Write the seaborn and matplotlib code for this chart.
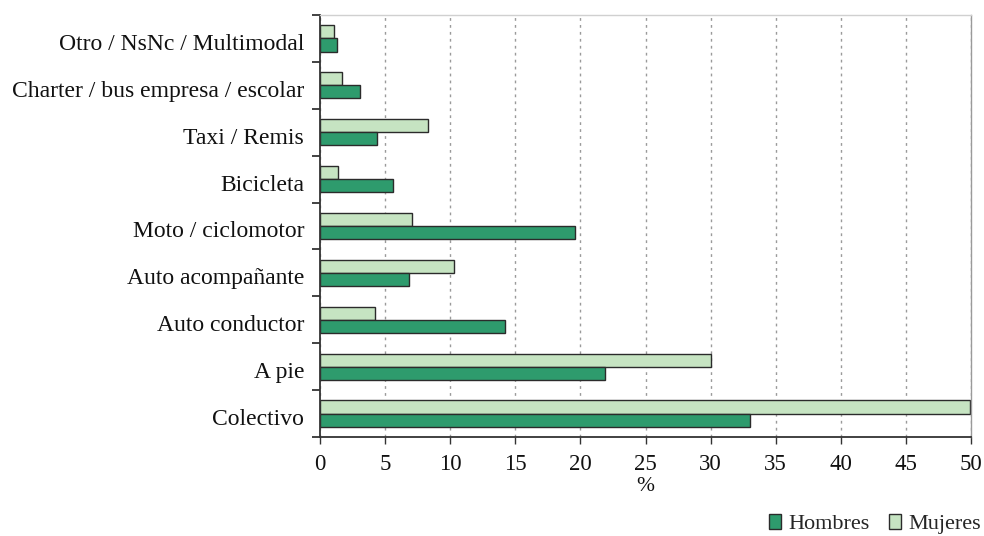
import matplotlib
matplotlib.use("Agg")
import matplotlib.pyplot as plt
import matplotlib.transforms as mtransforms
from matplotlib.patches import Patch
from matplotlib.ticker import FixedLocator
import seaborn as sns
import pandas as pd

# Travel mode shares by sex (%)
modos = [
    "Otro / NsNc / Multimodal",
    "Charter / bus empresa / escolar",
    "Taxi / Remis",
    "Bicicleta",
    "Moto / ciclomotor",
    "Auto acompañante",
    "Auto conductor",
    "A pie",
    "Colectivo",
]
hombres = [1.3, 3.1, 4.4, 5.6, 19.6, 6.8, 14.2, 21.9, 33.0]
mujeres = [1.1, 1.7, 8.3, 1.4, 7.1, 10.3, 4.2, 30.0, 49.9]
series = ["Hombres", "Mujeres"]
x_ticks = [0, 5, 10, 15, 20, 25, 30, 35, 40, 45, 50]

color_h = "#2e9b6d"
color_m = "#c6e4c2"

df = pd.DataFrame({
    "modo": modos * 2,
    "sexo": ["Mujeres"] * len(modos) + ["Hombres"] * len(modos),
    "valor": mujeres + hombres,
})

sns.set_theme(style="white")
plt.rcParams["font.family"] = ["Liberation Serif", "DejaVu Serif"]

fig = plt.figure(figsize=(9.84, 5.36), dpi=100)
ax = fig.add_axes([320 / 984, 1 - 437 / 536, 651 / 984, 422 / 536])

sns.barplot(
    data=df, y="modo", x="valor", hue="sexo", order=modos,
    hue_order=["Mujeres", "Hombres"],
    palette={"Mujeres": color_m, "Hombres": color_h},
    saturation=1, width=0.56, edgecolor="#2b2b2b", linewidth=1.0,
    orient="h", legend=False, ax=ax,
)

ax.set_xlim(0, 50)
ax.set_ylim(len(modos) - 0.5, -0.5)
ax.xaxis.set_major_locator(FixedLocator(x_ticks))
ax.set_xticklabels([str(t) for t in x_ticks])
ax.grid(axis="x", linestyle=(0, (2, 3)), color="#9a9a9a", linewidth=1.0)
ax.grid(axis="y", visible=False)
ax.set_axisbelow(True)

# category boundaries carry the tick marks, labels sit in between
ax.yaxis.set_minor_locator(FixedLocator([i - 0.5 for i in range(len(modos) + 1)]))
ax.tick_params(axis="y", which="major", length=0, pad=11.5, labelsize=17, labelcolor="#111111")
ax.tick_params(axis="y", which="minor", left=True, length=6, width=1.2, color="#222222", direction="out")
ax.tick_params(axis="x", which="major", bottom=True, length=5, width=1.0, color="#333333",
               direction="out", labelsize=16.5, labelcolor="#111111", pad=7)

# nudge category labels slightly downward
shift = mtransforms.ScaledTranslation(0, -2.5 / 72, fig.dpi_scale_trans)
for lbl in ax.get_yticklabels():
    lbl.set_transform(lbl.get_transform() + shift)

ax.set_ylabel("")
ax.set_xlabel("%", fontsize=15.5, color="#111111", labelpad=2)

for side in ["left", "bottom"]:
    ax.spines[side].set_color("#333333")
    ax.spines[side].set_linewidth(1.3)
ax.spines["top"].set_color("#d0d0d0")
ax.spines["right"].set_color("#9a9a9a")
ax.spines["top"].set_linewidth(1.0)
ax.spines["right"].set_linewidth(1.0)

handles = [
    Patch(facecolor=color_h, edgecolor="#2b2b2b", label=series[0]),
    Patch(facecolor=color_m, edgecolor="#2b2b2b", label=series[1]),
]
fig.legend(handles=handles, loc="lower right", bbox_to_anchor=(1.017, -0.034), ncol=2,
           frameon=False, fontsize=16, handlelength=0.55, handleheight=0.65,
           handletextpad=0.3, columnspacing=0.9)

fig.savefig("out.png", dpi=100)
